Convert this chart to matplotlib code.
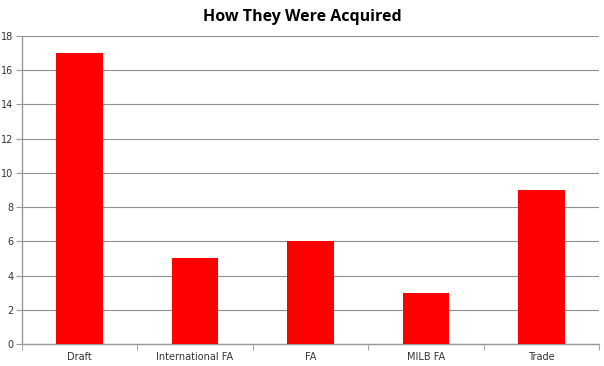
import matplotlib.pyplot as plt
import numpy as np

categories = ["Draft", "International FA", "FA", "MILB FA", "Trade"]
counts = [17, 5, 6, 3, 9]
y_ticks = [0, 2, 4, 6, 8, 10, 12, 14, 16, 18]

fig = plt.figure(figsize=(6.04, 3.66), dpi=100)
ax = fig.add_axes([0.036, 0.06, 0.956, 0.842])

x = np.arange(len(categories))
ax.bar(x, counts, width=0.4, color="#ff0000", zorder=3)

ax.set_xlim(-0.5, len(categories) - 0.5)
ax.set_ylim(0, 18)
ax.set_yticks(y_ticks)
ax.set_xticks(x)
ax.set_xticklabels(categories)
ax.set_xticks(np.arange(len(categories) + 1) - 0.5, minor=True)
ax.tick_params(axis="x", which="major", length=0, pad=6, labelsize=7, colors="#333333")
ax.tick_params(axis="x", which="minor", length=4, color="#999999", direction="out")
ax.tick_params(axis="y", length=4, color="#999999", labelsize=7, colors="#333333", pad=2)
ax.grid(axis="y", color="#909090", linewidth=0.8, zorder=0)

for s in ["top", "right"]:
    ax.spines[s].set_visible(False)
for s in ["left", "bottom"]:
    ax.spines[s].set_color("#999999")
    ax.spines[s].set_linewidth(1)

fig.suptitle("How They Were Acquired", x=0.5, y=0.975, fontsize=11.5, fontweight="bold",
             family="Open Sans", va="top")

fig.savefig("out.png", dpi=100)
